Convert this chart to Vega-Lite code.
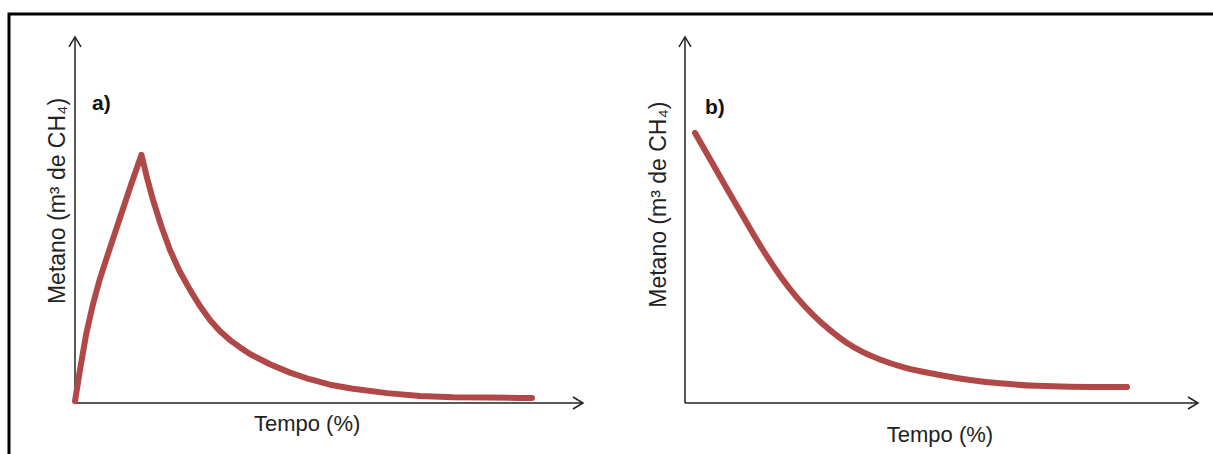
{
  "$schema": "https://vega.github.io/schema/vega-lite/v6.json",
  "width": 1204,
  "height": 440,
  "autosize": {"type": "none"},
  "padding": {"left": 9, "top": 14, "right": 0, "bottom": 0},
  "background": "white",
  "config": {"view": {"stroke": "black", "strokeWidth": 3, "strokeDash": [1204, 1644, 440]}},
  "datasets": {
    "curveA": [
      {"t": 0, "m": 0.5}, {"t": 0.98, "m": 9.0}, {"t": 2.17, "m": 18.6}, {"t": 3.54, "m": 27.0},
      {"t": 4.92, "m": 34.0}, {"t": 6.89, "m": 42.4}, {"t": 8.86, "m": 50.6}, {"t": 10.83, "m": 58.8},
      {"t": 13.09, "m": 67.8}, {"t": 14.2, "m": 61.4}, {"t": 15.35, "m": 55.5}, {"t": 17.0, "m": 48.3}, {"t": 18.7, "m": 41.8},
      {"t": 20.6, "m": 36.0}, {"t": 22.64, "m": 30.9}, {"t": 24.6, "m": 26.5},
      {"t": 26.57, "m": 22.7}, {"t": 28.5, "m": 19.7}, {"t": 30.51, "m": 17.2}, {"t": 32.5, "m": 15.2}, {"t": 34.45, "m": 13.4}, {"t": 38.39, "m": 10.6},
      {"t": 42.32, "m": 8.3}, {"t": 46.2, "m": 6.5}, {"t": 50.2, "m": 5.0}, {"t": 54.72, "m": 3.9}, {"t": 61.42, "m": 2.7},
      {"t": 67.91, "m": 1.9}, {"t": 74.41, "m": 1.6}, {"t": 81.1, "m": 1.5}, {"t": 87.6, "m": 1.4},
      {"t": 89.96, "m": 1.4}
    ],
    "curveB": [
      {"t": 1.95, "m": 73.8}, {"t": 5.46, "m": 65.2}, {"t": 8.77, "m": 57.1}, {"t": 12.09, "m": 49.1},
      {"t": 15.2, "m": 41.8}, {"t": 18.52, "m": 34.8}, {"t": 21.83, "m": 28.8}, {"t": 24.95, "m": 24.1},
      {"t": 28.27, "m": 19.9}, {"t": 31.58, "m": 16.4}, {"t": 34.7, "m": 13.9}, {"t": 38.01, "m": 11.9},
      {"t": 42.5, "m": 9.8}, {"t": 49.12, "m": 7.8}, {"t": 55.56, "m": 6.3}, {"t": 61.99, "m": 5.3},
      {"t": 68.62, "m": 4.7}, {"t": 75.05, "m": 4.45}, {"t": 81.48, "m": 4.4}, {"t": 86.16, "m": 4.4}
    ],
    "axes": [
      {"t": 0, "m": 0, "t2": 0, "m2": 100},
      {"t": 0, "m": 0, "t2": 100, "m2": 0}
    ],
    "arrows": [
      {"t": 0, "m": 100, "dir": "up"},
      {"t": 100, "m": 0, "dir": "right"}
    ]
  },
  "resolve": {"scale": {"x": "independent"}},
  "layer": [
    {
      "encoding": {
        "x": {"field": "t", "type": "quantitative", "scale": {"domain": [-12.99, 224.02], "nice": false, "zero": false}, "axis": null},
        "y": {"field": "m", "type": "quantitative", "scale": {"domain": [-13.93, 106.28], "nice": false, "zero": false}, "axis": null}
      },
      "layer": [
        {
          "data": {"name": "axes"},
          "mark": {"type": "rule", "color": "#222222", "strokeWidth": 1.5},
          "encoding": {"x2": {"field": "t2"}, "y2": {"field": "m2"}}
        },
        {
          "data": {"name": "arrows"},
          "mark": {"type": "point", "filled": false, "stroke": "#222222", "strokeWidth": 1.5, "size": 400, "opacity": 1},
          "encoding": {"shape": {"field": "dir", "type": "nominal", "scale": {"domain": ["up", "right"], "range": ["M-0.6,1L0,0L0.6,1", "M-1,-0.6L0,0L-1,0.6"]}, "legend": null}}
        },
        {
          "data": {"name": "curveA"},
          "mark": {"type": "line", "color": "#b04848", "strokeWidth": 6, "strokeCap": "round", "strokeJoin": "round", "interpolate": "linear"},
          "encoding": {}
        },
        {
          "data": {"values": [{"t": 3.35, "m": 81.7, "label": "a)"}]},
          "mark": {"type": "text", "align": "left", "baseline": "middle", "font": "Liberation Sans", "fontWeight": "bold", "fontSize": 21, "color": "#111111"},
          "encoding": {"text": {"field": "label"}}
        },
        {
          "data": {"values": [{"t": -3.35, "m": 55.2, "label": "Metano (m³ de CH₄)"}]},
          "mark": {"type": "text", "align": "center", "baseline": "middle", "angle": 270, "font": "Liberation Sans", "fontSize": 23, "color": "#222222"},
          "encoding": {"text": {"field": "label"}}
        },
        {
          "data": {"values": [{"t": 45.7, "m": -5.74, "label": "Tempo (%)"}]},
          "mark": {"type": "text", "align": "center", "baseline": "middle", "font": "Liberation Sans", "fontSize": 22, "color": "#222222"},
          "encoding": {"text": {"field": "label"}}
        }
      ]
    },
    {
      "encoding": {
        "x": {"field": "t", "type": "quantitative", "scale": {"domain": [-131.77, 102.92], "nice": false, "zero": false}, "axis": null},
        "y": {"field": "m", "type": "quantitative", "scale": {"domain": [-13.93, 106.28], "nice": false, "zero": false}, "axis": null}
      },
      "layer": [
        {
          "data": {"name": "axes"},
          "mark": {"type": "rule", "color": "#222222", "strokeWidth": 1.5},
          "encoding": {"x2": {"field": "t2"}, "y2": {"field": "m2"}}
        },
        {
          "data": {"name": "arrows"},
          "mark": {"type": "point", "filled": false, "stroke": "#222222", "strokeWidth": 1.5, "size": 400, "opacity": 1},
          "encoding": {"shape": {"field": "dir", "type": "nominal", "scale": {"domain": ["up", "right"], "range": ["M-0.6,1L0,0L0.6,1", "M-1,-0.6L0,0L-1,0.6"]}, "legend": null}}
        },
        {
          "data": {"name": "curveB"},
          "mark": {"type": "line", "color": "#b04848", "strokeWidth": 6, "strokeCap": "round", "strokeJoin": "round", "interpolate": "monotone"},
          "encoding": {}
        },
        {
          "data": {"values": [{"t": 3.9, "m": 80.6, "label": "b)"}]},
          "mark": {"type": "text", "align": "left", "baseline": "middle", "font": "Liberation Sans", "fontWeight": "bold", "fontSize": 21, "color": "#111111"},
          "encoding": {"text": {"field": "label"}}
        },
        {
          "data": {"values": [{"t": -5.07, "m": 54.2, "label": "Metano (m³ de CH₄)"}]},
          "mark": {"type": "text", "align": "center", "baseline": "middle", "angle": 270, "font": "Liberation Sans", "fontSize": 23, "color": "#222222"},
          "encoding": {"text": {"field": "label"}}
        },
        {
          "data": {"values": [{"t": 49.7, "m": -8.74, "label": "Tempo (%)"}]},
          "mark": {"type": "text", "align": "center", "baseline": "middle", "font": "Liberation Sans", "fontSize": 22, "color": "#222222"},
          "encoding": {"text": {"field": "label"}}
        }
      ]
    }
  ]
}
